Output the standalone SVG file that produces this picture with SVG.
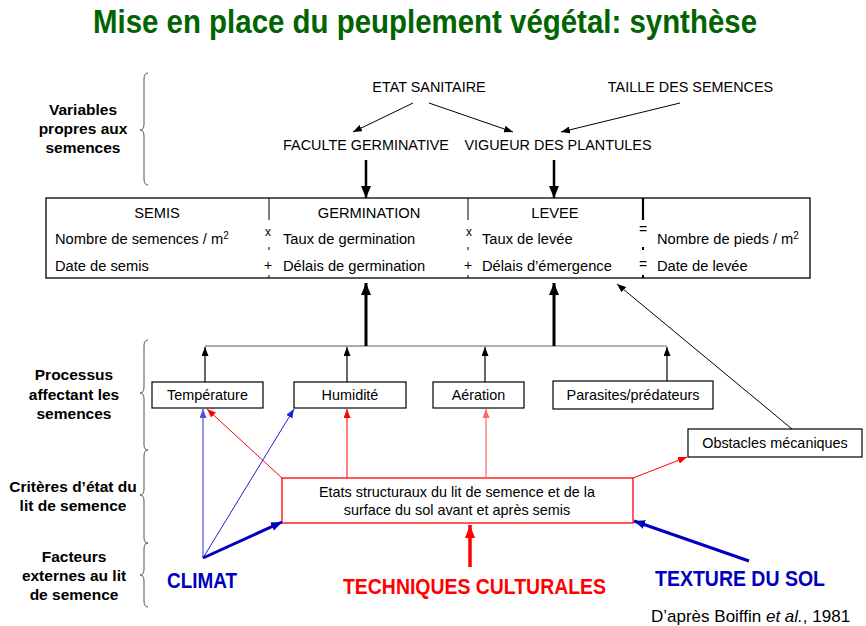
<svg xmlns="http://www.w3.org/2000/svg" width="866" height="626" viewBox="0 0 866 626">
<style>
text{font-family:"Liberation Sans",Arial,sans-serif;fill:#000}
.t14{font-size:14.4px}
.b{font-size:14.7px}
.lab{font-size:15.5px;font-weight:bold;text-anchor:middle}
.m{text-anchor:middle}
.box{fill:#fff;stroke:#000;stroke-width:1.2}
.brace{fill:none;stroke:#555;stroke-width:1}
.big{font-weight:bold}
</style>
<defs>
<marker id="ak" viewBox="0 0 9 7" refX="9" refY="3.5" markerWidth="9" markerHeight="7" markerUnits="userSpaceOnUse" orient="auto"><path d="M0,0L9,3.5L0,7z" fill="#000"/></marker>
<marker id="akb" viewBox="0 0 12 10" refX="12" refY="5" markerWidth="12" markerHeight="10" markerUnits="userSpaceOnUse" orient="auto"><path d="M0,0L12,5L0,10z" fill="#000"/></marker>
<marker id="ar" viewBox="0 0 9 7" refX="9" refY="3.5" markerWidth="9" markerHeight="7" markerUnits="userSpaceOnUse" orient="auto"><path d="M0,0L9,3.5L0,7z" fill="#ff0000"/></marker>
<marker id="arl" viewBox="0 0 9 7" refX="9" refY="3.5" markerWidth="9" markerHeight="7" markerUnits="userSpaceOnUse" orient="auto"><path d="M0,0L9,3.5L0,7z" fill="#ff6666"/></marker>
<marker id="arb" viewBox="0 0 13 10" refX="13" refY="5" markerWidth="13" markerHeight="10" markerUnits="userSpaceOnUse" orient="auto"><path d="M0,0L13,5L0,10z" fill="#ff0000"/></marker>
<marker id="abl" viewBox="0 0 9 7" refX="9" refY="3.5" markerWidth="9" markerHeight="7" markerUnits="userSpaceOnUse" orient="auto"><path d="M0,0L9,3.5L0,7z" fill="#2020d0"/></marker>
<marker id="abll" viewBox="0 0 9 7" refX="9" refY="3.5" markerWidth="9" markerHeight="7" markerUnits="userSpaceOnUse" orient="auto"><path d="M0,0L9,3.5L0,7z" fill="#5050e0"/></marker>
<marker id="ablb" viewBox="0 0 11 9" refX="11" refY="4.5" markerWidth="11" markerHeight="9" markerUnits="userSpaceOnUse" orient="auto"><path d="M0,0L11,4.5L0,9z" fill="#0000c0"/></marker>
</defs>
<rect width="866" height="626" fill="#fff"/>

<g id="title"><text x="425" y="33" class="m big" font-size="33" textLength="664" lengthAdjust="spacingAndGlyphs" style="fill:#006400">Mise en place du peuplement végétal: synthèse</text></g>

<g id="left-labels">
<text class="lab" x="83" y="115">Variables</text>
<text class="lab" x="83" y="134">propres aux</text>
<text class="lab" x="83" y="153">semences</text>
<text class="lab" x="74" y="380">Processus</text>
<text class="lab" x="74" y="400">affectant les</text>
<text class="lab" x="74" y="419">semences</text>
<text class="lab" x="73" y="492">Critères d’état du</text>
<text class="lab" x="73" y="511">lit de semence</text>
<text class="lab" x="74" y="562">Facteurs</text>
<text class="lab" x="74" y="581">externes au lit</text>
<text class="lab" x="74" y="600">de semence</text>
<path class="brace" d="M148,73 Q144,73 144,79 L144,124 Q144,130 140,130 Q144,130 144,136 L144,179 Q144,185 148,185"/>
<path class="brace" d="M148,340 Q144,340 144,346 L144,387 Q144,393 140,393 Q144,393 144,399 L144,445 Q144,450 148,450"/>
<path class="brace" d="M148,450 Q144,450 144,456 L144,489 Q144,495 140,495 Q144,495 144,501 L144,538 Q144,543 148,543"/>
<path class="brace" d="M148,543 Q144,543 144,549 L144,569 Q144,575 140,575 Q144,575 144,581 L144,601 Q144,607 148,607"/>
</g>

<g id="etat-sanitaire"><text class="t14 m" x="429" y="92">ETAT SANITAIRE</text></g>
<g id="taille-semences"><text class="t14 m" x="690.5" y="92">TAILLE DES SEMENCES</text></g>
<g id="faculte"><text class="t14 m" x="366" y="150">FACULTE GERMINATIVE</text></g>
<g id="vigueur"><text class="t14 m" x="558" y="150">VIGUEUR DES PLANTULES</text></g>

<g id="main-table">
<rect x="46" y="198" width="764" height="80" fill="#fff" stroke="#000" stroke-width="1.3"/>
<line x1="269" y1="198" x2="269" y2="220" stroke="#000" stroke-width="1"/>
<line x1="269" y1="247" x2="269" y2="250" stroke="#000" stroke-width="1"/>
<line x1="269" y1="275" x2="269" y2="278" stroke="#000" stroke-width="1"/>
<line x1="468" y1="198" x2="468" y2="220" stroke="#000" stroke-width="1"/>
<line x1="468" y1="247" x2="468" y2="250" stroke="#000" stroke-width="1"/>
<line x1="468" y1="275" x2="468" y2="278" stroke="#000" stroke-width="1"/>
<line x1="643" y1="198" x2="643" y2="220" stroke="#000" stroke-width="2.2"/>
<line x1="643" y1="247" x2="643" y2="250" stroke="#000" stroke-width="2"/>
<line x1="643" y1="275" x2="643" y2="278" stroke="#000" stroke-width="2"/>
<text class="b m" x="157" y="218">SEMIS</text>
<text class="b m" x="369" y="218">GERMINATION</text>
<text class="b m" x="555" y="218">LEVEE</text>
<text class="b" x="55" y="244">Nombre de semences / m<tspan font-size="10" dy="-5">2</tspan></text>
<text class="b" x="55" y="271">Date de semis</text>
<text class="b" x="283" y="244">Taux de germination</text>
<text class="b" x="283" y="271">Délais de germination</text>
<text class="b" x="482" y="244">Taux de levée</text>
<text class="b" x="482" y="271">Délais d’émergence</text>
<text class="b" x="657" y="244">Nombre de pieds / m<tspan font-size="10" dy="-5">2</tspan></text>
<text class="b" x="657" y="271">Date de levée</text>
<text class="m" font-size="12" x="268" y="236">x</text>
<text class="m" font-size="14" x="268" y="270">+</text>
<text class="m" font-size="12" x="469" y="236">x</text>
<text class="m" font-size="14" x="468" y="270">+</text>
<text class="m" font-size="14" x="643" y="234">=</text>
<text class="m" font-size="14" x="643" y="269">=</text>
</g>

<g id="temperature"><rect class="box" x="152" y="382" width="111" height="26"/><text class="t14 m" x="207.5" y="400">Température</text></g>
<g id="humidite"><rect class="box" x="294" y="382" width="112" height="26"/><text class="t14 m" x="350" y="400">Humidité</text></g>
<g id="aeration"><rect class="box" x="433" y="382" width="91" height="26"/><text class="t14 m" x="478.5" y="400">Aération</text></g>
<g id="parasites"><rect class="box" x="553" y="381" width="160" height="28"/><text class="t14 m" x="633" y="400">Parasites/prédateurs</text></g>
<g id="obstacles"><rect class="box" x="688" y="429" width="174" height="28"/><text class="t14 m" x="775" y="448">Obstacles mécaniques</text></g>
<g id="etats"><rect x="282" y="478" width="351" height="45" fill="#fff" stroke="#ff0000" stroke-width="1.3"/>
<text class="t14 m" x="457" y="497">Etats structuraux du lit de semence et de la</text>
<text class="t14 m" x="457" y="515">surface du sol avant et après semis</text></g>

<g id="climat"><text class="big m" x="202" y="588" font-size="22" textLength="70" lengthAdjust="spacingAndGlyphs" style="fill:#0000c0">CLIMAT</text></g>
<g id="techniques"><text class="big m" x="474.5" y="594" font-size="22" textLength="263" lengthAdjust="spacingAndGlyphs" style="fill:#ff0000">TECHNIQUES CULTURALES</text></g>
<g id="texture"><text class="big m" x="740" y="586" font-size="22" textLength="170" lengthAdjust="spacingAndGlyphs" style="fill:#0000c0">TEXTURE DU SOL</text></g>
<g id="source"><text x="651" y="622" font-size="17">D’après Boiffin <tspan font-style="italic">et al.</tspan>, 1981</text></g>

<g id="connectors" fill="none">
<line x1="413" y1="103" x2="353" y2="132" stroke="#000" stroke-width="1" marker-end="url(#ak)"/>
<line x1="429" y1="103" x2="513" y2="132" stroke="#000" stroke-width="1" marker-end="url(#ak)"/>
<line x1="680" y1="103" x2="561" y2="132" stroke="#000" stroke-width="1" marker-end="url(#ak)"/>
<line x1="366" y1="160" x2="366" y2="198" stroke="#000" stroke-width="2.5" marker-end="url(#akb)"/>
<line x1="554" y1="160" x2="554" y2="198" stroke="#000" stroke-width="2.5" marker-end="url(#akb)"/>
<line x1="205" y1="346" x2="366" y2="346" stroke="#555" stroke-width="1.2"/>
<line x1="366" y1="346" x2="667" y2="346" stroke="#999" stroke-width="1.5"/>
<line x1="366" y1="346" x2="366" y2="283" stroke="#000" stroke-width="3" marker-end="url(#akb)"/>
<line x1="554" y1="346" x2="554" y2="283" stroke="#000" stroke-width="3" marker-end="url(#akb)"/>
<line x1="205" y1="382" x2="205" y2="347" stroke="#000" stroke-width="1.2" marker-end="url(#ak)"/>
<line x1="347" y1="382" x2="347" y2="347" stroke="#000" stroke-width="1.2" marker-end="url(#ak)"/>
<line x1="485" y1="382" x2="485" y2="347" stroke="#000" stroke-width="1.2" marker-end="url(#ak)"/>
<line x1="667" y1="381" x2="667" y2="347" stroke="#000" stroke-width="1.2" marker-end="url(#ak)"/>
<line x1="792" y1="429" x2="617" y2="284" stroke="#000" stroke-width="1" marker-end="url(#ak)"/>
<line x1="282" y1="478" x2="207" y2="409" stroke="#ff0000" stroke-width="1" marker-end="url(#ar)"/>
<line x1="347" y1="478" x2="347" y2="409" stroke="#ff0000" stroke-width="1" marker-end="url(#ar)"/>
<line x1="486" y1="478" x2="486" y2="409" stroke="#ff6666" stroke-width="1.2" marker-end="url(#arl)"/>
<line x1="633" y1="478" x2="687" y2="457" stroke="#ff0000" stroke-width="1" marker-end="url(#ar)"/>
<line x1="470" y1="567" x2="470" y2="525" stroke="#ff0000" stroke-width="3.5" marker-end="url(#arb)"/>
<line x1="203" y1="558" x2="203" y2="409" stroke="#5050e0" stroke-width="1.2" marker-end="url(#abll)"/>
<line x1="203" y1="558" x2="294" y2="409" stroke="#2020d0" stroke-width="1" marker-end="url(#abl)"/>
<line x1="203" y1="558" x2="282" y2="522" stroke="#0000c0" stroke-width="3" marker-end="url(#ablb)"/>
<line x1="749" y1="561" x2="634" y2="521" stroke="#0000c0" stroke-width="3" marker-end="url(#ablb)"/>
</g>
</svg>
